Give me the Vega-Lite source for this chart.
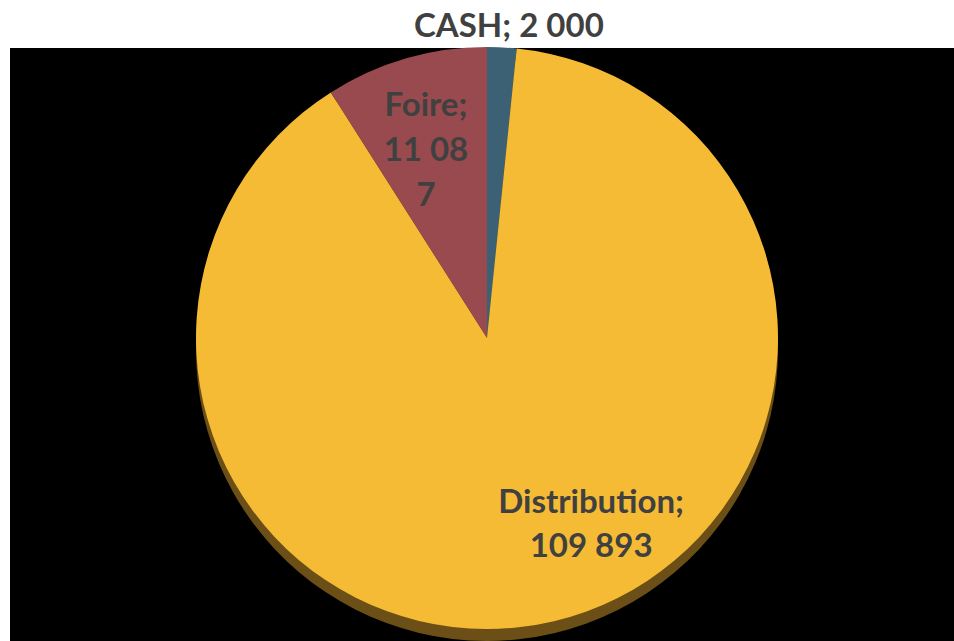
{
  "$schema": "https://vega.github.io/schema/vega-lite/v6.json",
  "autosize": {"type": "none"},
  "padding": {"left": 10, "top": 48, "right": 0, "bottom": 0},
  "width": 944,
  "height": 593,
  "background": "white",
  "view": {"fill": "black", "stroke": null},
  "data": {
    "values": [
      {"cat": "CASH", "value": 2000, "seq": 1, "label": "CASH; 2 000"},
      {"cat": "Distribution", "value": 109893, "seq": 2, "label": "Distribution;\n109 893"},
      {"cat": "Foire", "value": 11087, "seq": 3, "label": "Foire;\n11 08\n7"}
    ]
  },
  "encoding": {
    "theta": {"field": "value", "type": "quantitative", "stack": true},
    "order": {"field": "seq", "type": "quantitative", "sort": "ascending"}
  },
  "layer": [
    {
      "mark": {"type": "arc", "outerRadius": 291, "xOffset": 5, "yOffset": 5.5, "color": "#6B4F17"}
    },
    {
      "mark": {"type": "arc", "outerRadius": 291, "xOffset": 5, "yOffset": -6.5},
      "encoding": {
        "color": {
          "field": "cat", "type": "nominal", "legend": null,
          "scale": {"domain": ["CASH", "Distribution", "Foire"], "range": ["#3C6074", "#F5BB35", "#984A4E"]}
        }
      }
    },
    {
      "mark": {"type": "text", "radius": 311, "xOffset": 11, "yOffset": -7, "font": "Lato", "fontWeight": "bold", "fontSize": 33, "color": "#404040", "lineBreak": "\n", "lineHeight": 45, "align": "center", "baseline": "middle"},
      "encoding": {"text": {"condition": {"test": "datum.cat === 'CASH'", "field": "label"}, "value": ""}}
    },
    {
      "mark": {"type": "text", "radius": 197, "xOffset": -1, "yOffset": -49, "font": "Lato", "fontWeight": "bold", "fontSize": 33, "color": "#404040", "lineBreak": "\n", "lineHeight": 45, "align": "center", "baseline": "middle"},
      "encoding": {"text": {"condition": {"test": "datum.cat === 'Foire'", "field": "label"}, "value": ""}}
    },
    {
      "mark": {"type": "text", "radius": 183, "xOffset": 67, "yOffset": -20, "font": "Lato", "fontWeight": "bold", "fontSize": 33, "color": "#404040", "lineBreak": "\n", "lineHeight": 44, "align": "center", "baseline": "middle"},
      "encoding": {"text": {"condition": {"test": "datum.cat === 'Distribution'", "field": "label"}, "value": ""}}
    }
  ]
}
